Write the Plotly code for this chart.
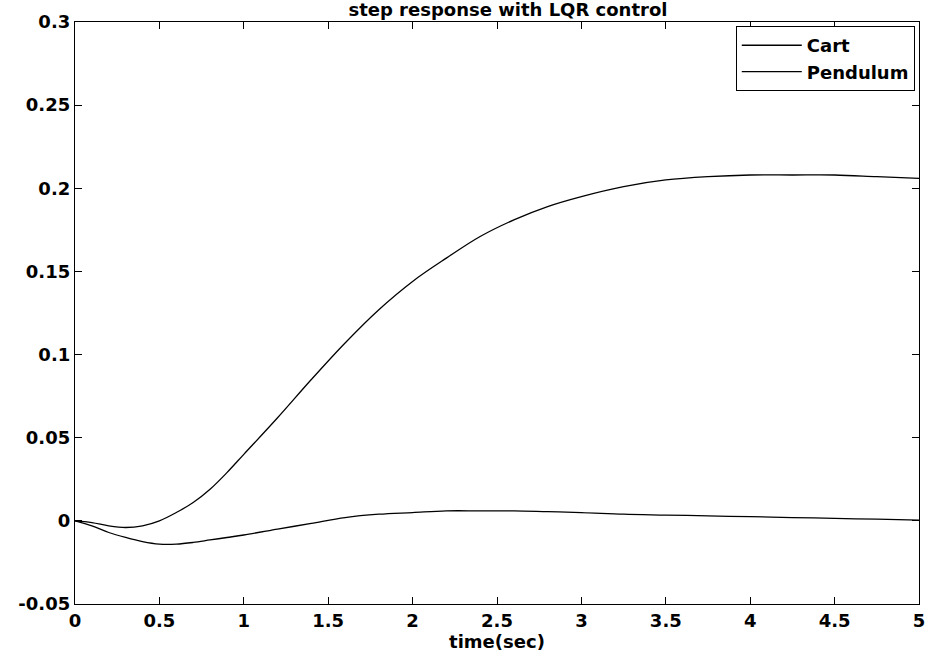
import plotly.graph_objects as go

t = [0, 0.1, 0.2, 0.3, 0.4, 0.5, 0.6, 0.7, 0.8, 0.9, 1.0, 1.2, 1.4, 1.6, 1.8, 2.0,
     2.2, 2.4, 2.6, 2.8, 3.0, 3.25, 3.5, 3.75, 4.0, 4.25, 4.5, 4.75, 5.0]
cart = [0, -0.001, -0.003, -0.004, -0.003, 0.0, 0.005, 0.011, 0.019, 0.029, 0.040,
        0.062, 0.085, 0.107, 0.127, 0.144, 0.158, 0.171, 0.181, 0.189, 0.195, 0.201,
        0.205, 0.207, 0.208, 0.208, 0.208, 0.207, 0.206]
pendulum = [0, -0.003, -0.007, -0.010, -0.0125, -0.014, -0.014, -0.013, -0.0115, -0.010,
            -0.0085, -0.005, -0.0015, 0.002, 0.004, 0.005, 0.006, 0.006, 0.006, 0.0055,
            0.005, 0.004, 0.0035, 0.003, 0.0025, 0.002, 0.0015, 0.001, 0.0005]

x_ticks = [0, 0.5, 1, 1.5, 2, 2.5, 3, 3.5, 4, 4.5, 5]
x_tick_labels = ["0", "0.5", "1", "1.5", "2", "2.5", "3", "3.5", "4", "4.5", "5"]
y_ticks = [-0.05, 0, 0.05, 0.1, 0.15, 0.2, 0.25, 0.3]
y_tick_labels = ["-0.05", "0", "0.05", "0.1", "0.15", "0.2", "0.25", "0.3"]

FONT = "DejaVu Sans, Arial, sans-serif"
TXT = dict(family=FONT, size=18, color="black", weight="bold")

fig = go.Figure()
fig.add_trace(go.Scatter(x=t, y=cart, mode="lines", name="Cart",
                         line=dict(color="black", width=1.3, shape="spline")))
fig.add_trace(go.Scatter(x=t, y=pendulum, mode="lines", name="Pendulum",
                         line=dict(color="black", width=1.3, shape="spline")))

axis_common = dict(showgrid=False, zeroline=False, showline=True, linecolor="black",
                   linewidth=1.3, mirror="ticks", ticks="inside", ticklen=7,
                   tickcolor="black", tickwidth=1, tickfont=TXT)

fig.update_layout(
    width=932, height=663,
    margin=dict(l=75, r=7, t=22, b=59),
    paper_bgcolor="white", plot_bgcolor="white",
    title=dict(text="step response with LQR control", x=0.545, xanchor="center",
               y=0.985, yanchor="middle", font=TXT),
    xaxis=dict(range=[0, 5], tickvals=x_ticks, ticktext=x_tick_labels,
               title=dict(text="time(sec)", standoff=2, font=TXT),
               **axis_common),
    yaxis=dict(range=[-0.05, 0.3], tickvals=y_ticks, ticktext=y_tick_labels,
               **axis_common),
    legend=dict(x=0.995, y=0.993, xanchor="right", yanchor="top",
                bordercolor="black", borderwidth=1, bgcolor="white",
                font=TXT, tracegroupgap=0, itemwidth=60),
    showlegend=True,
)

fig.write_html("out.html")
